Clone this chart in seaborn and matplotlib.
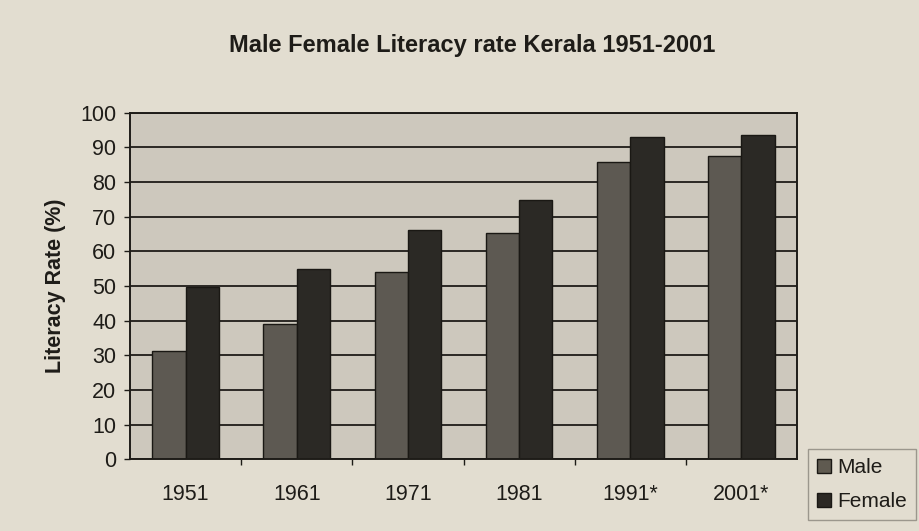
import seaborn as sns
import pandas as pd
import matplotlib.pyplot as plt
from matplotlib.ticker import FixedLocator

years = ["1951", "1961", "1971", "1981", "1991*", "2001*"]
male = [31.4, 39.0, 54.0, 65.4, 85.8, 87.4]
female = [49.8, 54.9, 66.3, 74.8, 93.1, 93.6]

df = pd.DataFrame({
    "year": years * 2,
    "sex": ["Male"] * len(years) + ["Female"] * len(years),
    "rate": male + female,
})

sns.set_theme(style="white")
plt.rcParams["font.family"] = ["Liberation Sans", "DejaVu Sans"]

ink = "#1e1c18"
paper = "#e2ddd0"
colors = {"Male": "#5f5a50", "Female": "#2c2924"}

fig = plt.figure(figsize=(9.19, 5.31), dpi=100, facecolor=paper)
ax = fig.add_axes([0.1415, 0.1347, 0.7258, 0.653])
ax.set_facecolor("#cdc8bd")

ax.set_axisbelow(True)
ax.yaxis.grid(True, color=ink, linewidth=1.3)

sns.barplot(
    data=df, x="year", y="rate", hue="sex", ax=ax,
    palette=colors, width=0.6, edgecolor="#1a1814", linewidth=1.0, legend=False,
)

ax.set_ylim(0, 100)
ax.set_xlim(-0.5, 5.5)
ax.set_yticks(range(0, 101, 10))
ax.tick_params(axis="y", labelsize=15.5, colors=ink, length=4, width=1,
               direction="out", left=True, pad=6)
ax.tick_params(axis="x", labelsize=15.5, colors=ink, length=0, pad=18)
ax.xaxis.set_minor_locator(FixedLocator([0.5, 1.5, 2.5, 3.5, 4.5]))
ax.tick_params(axis="x", which="minor", length=4, width=1, color=ink, bottom=True)
for s in ax.spines.values():
    s.set_color(ink)
    s.set_linewidth(1.4)

ax.set_xlabel("")
ax.set_ylabel("Literacy Rate (%)", fontsize=15.5, fontweight="bold", color=ink, labelpad=10)
fig.text(0.514, 0.915, "Male Female Literacy rate Kerala 1951-2001",
         ha="center", va="center", fontsize=17, fontweight="bold", color=ink)

handles = [plt.Rectangle((0, 0), 1, 1, facecolor=colors[k], edgecolor="#1a1814")
           for k in ["Male", "Female"]]
leg = fig.legend(handles, ["Male", "Female"], loc="upper left",
                 bbox_to_anchor=(808 / 919, 1 - 449 / 531), fontsize=15, frameon=True,
                 handlelength=0.65, handleheight=0.65, handletextpad=0.3,
                 borderpad=0.45, labelspacing=0.7, borderaxespad=0, fancybox=False)
leg.get_frame().set_edgecolor("#8a867c")
leg.get_frame().set_facecolor(paper)
for t in leg.get_texts():
    t.set_color(ink)

fig.savefig("out.png", dpi=100, facecolor=paper)
